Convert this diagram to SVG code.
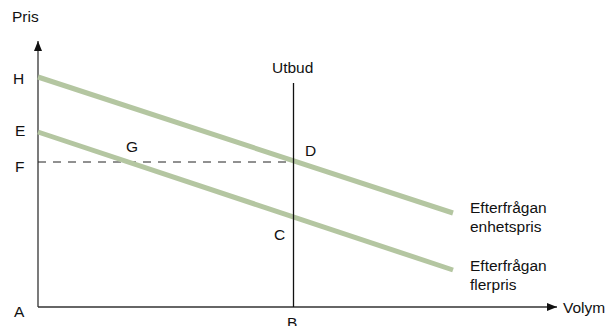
<svg xmlns="http://www.w3.org/2000/svg" width="615" height="326" viewBox="0 0 615 326">
<style>
text{font-family:"Liberation Sans",Arial,sans-serif;font-size:15.5px;fill:#111}
.axis{stroke:#333;stroke-width:1.3;fill:none}
.demand{stroke:#b4c6a1;stroke-width:5;fill:none}
.dash{stroke:#222;stroke-width:1;stroke-dasharray:8 7;fill:none}
</style>
<defs>
<marker id="arr" viewBox="0 0 10 8" refX="10" refY="4" markerWidth="10" markerHeight="8" markerUnits="userSpaceOnUse" orient="auto">
<path d="M0,0 L10,4 L0,8 Z" fill="#111"/>
</marker>
</defs>
<g id="connectors">
<path class="axis" d="M38,307 V41" marker-end="url(#arr)"/>
<path class="axis" d="M38,307 H557" marker-end="url(#arr)"/>
<path class="dash" d="M38,162 H293"/>
<path id="demand-enhet" class="demand" d="M38,77 L453,213"/>
<path id="demand-fler" class="demand" d="M38,132 L453,270"/>
<path id="utbud-line" stroke="#111" stroke-width="1.3" d="M293.5,83 V307"/>
</g>
<g id="labels">
<text x="12" y="22">Pris</text>
<text x="13" y="84">H</text>
<text x="15" y="136">E</text>
<text x="15" y="172">F</text>
<text x="14" y="317">A</text>
<text x="126" y="152">G</text>
<text x="305" y="156">D</text>
<text x="274" y="240">C</text>
<text x="287" y="328">B</text>
<text x="272" y="73">Utbud</text>
<text x="563" y="313">Volym</text>
<text x="470" y="213">Efterfrågan</text>
<text x="470" y="232">enhetspris</text>
<text x="470" y="271">Efterfrågan</text>
<text x="470" y="290">flerpris</text>
</g>
</svg>
